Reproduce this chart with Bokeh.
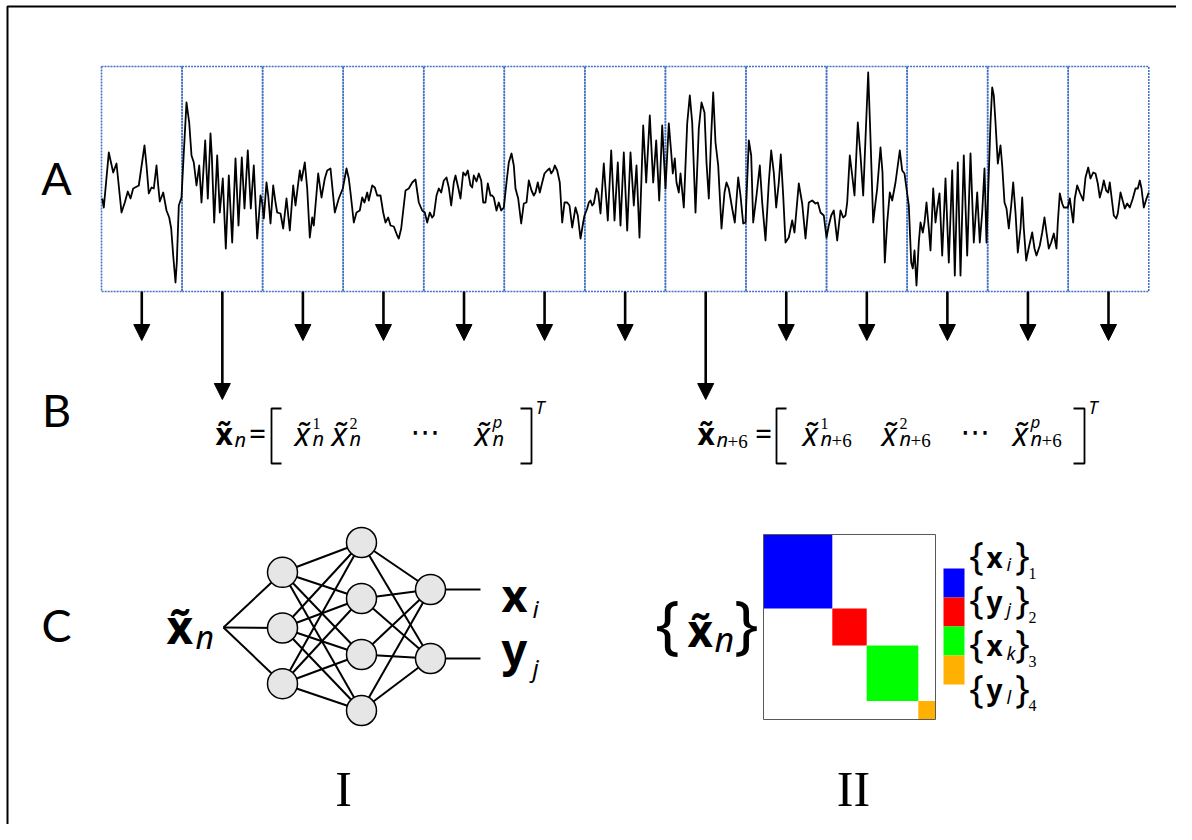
import numpy as np
from bokeh.plotting import figure
from bokeh.models import Range1d, Arrow, NormalHead, ColumnDataSource
from bokeh.core.properties import value
from bokeh.embed import file_html
from bokeh.resources import INLINE

# ---------------- data ----------------
n_windows = 13
window_len = 80.56            # samples per analysis window
long_arrow_windows = [1, 7]   # windows n and n+6 expanded in row B

# EEG-like trace: sample index and amplitude (µV)
sig_t = [
    0.7, 2.3, 7.3, 11.7, 15, 20, 23.3, 26.3, 29, 31.7, 37.3, 39.7, 43, 45, 47.3, 50, 52.3, 55, 56.7, 58.3, 61.7, 65, 67.7, 69.7, 71.7, 74, 75.3, 77.3, 80,
    82.3, 85, 87.7, 90, 92.3, 95, 97.7, 100, 103.7, 106.3, 109, 110.3, 112.7, 115.7, 118.3, 121.3, 124.3, 127.3, 130.7, 134, 137, 140.3, 143, 146.3, 149.3, 152.3, 155.7, 159,
    160.7, 162.3, 165, 166.7, 169, 171.7, 174, 175.7, 179, 181.7, 185, 188.3, 191.7, 194, 198.3, 200, 203.3, 205.7, 208.3, 210.7, 212.3, 216.7, 220, 223.3, 225.7, 229, 233.3, 237.3, 241.3,
    245, 247.3, 249, 252.3, 255, 258.3, 260.7, 263, 265.7, 267.3, 270.7, 273.3, 275.7, 279, 281.7, 284, 286.7, 289, 292.3, 295.7, 297.3, 299.7, 302.3, 304, 307.3, 310.7, 314, 317.3, 320.7, 323.3,
    325.7, 328.3, 330.7, 332.3, 335, 337.3, 339.7, 342.3, 345, 347.3, 349.7, 352.3, 354, 356.7, 359, 361.7, 364, 366.3, 369, 370.7, 372.3, 375, 377.3, 379.7, 381.7, 384, 386.3, 389, 390.7, 392.3, 395, 397.3, 399.7, 402.3,
    405, 407.3, 410, 412.3, 414, 416.7, 419.7, 422.3, 425, 427.3, 430, 432.3, 434, 436.3, 438.3, 440.7, 443, 445.7, 448, 449.7, 451.7, 453.3, 455.7, 458.3, 460.7, 463, 465.7, 468, 470.7, 474, 476.3, 479, 481.7, 483,
    485.7, 487.3, 489, 490.7, 492.3, 495, 496.7, 499, 502.3, 504, 506.3, 509.7, 513, 516.3, 519, 522.3, 525.7, 529, 532.3, 535, 538, 541.7, 544.7, 548.3, 551.7, 554.7, 557.7, 560.7, 564,
    567.3, 569.7, 571.3, 573.3, 575, 577.3, 579, 582.3, 585.7, 588.3, 590.7, 594, 597.3, 600, 603, 605, 607.3, 609.7, 611.7, 614, 616.7, 620, 623, 625, 627.3, 630.7, 633.3, 636.7, 639, 641.7, 644,
    647.3, 649.7, 651.7, 655, 658.3, 660.7, 664, 667.3, 669.7, 672.3, 674.7, 677.3, 679.3, 681.7, 684, 687.3, 690.7, 693, 697.3, 700.7, 704, 707.3, 710.7, 714, 716.3, 719, 722.3, 725,
    727.3, 729.7, 732.3, 735.7, 739, 741.7, 744, 745.7, 748.3, 750.7, 753, 756.3, 759, 761.7, 764, 766.7, 769, 771.7, 774, 775.7, 779, 781, 783.3, 785.7, 788.3, 790.7, 794, 798.3, 800.7, 803, 805,
    807.3, 809.7, 811.3, 813, 815, 817.3, 819, 821.3, 823, 825, 827.3, 829, 831.7, 834, 835.7, 838, 840.7, 844, 847.3, 850.7, 853.3, 856.3, 859, 862.3, 865.7, 869, 872.3, 875.7, 878.3, 880.7, 883, 885,
    889, 890.7, 892.3, 894, 896.3, 899, 900.7, 903, 905, 907.3, 909.7, 911.7, 914, 916.3, 919, 920.7, 922.3, 924.7, 927.3, 930.7, 933, 935, 938.3, 940.7, 943, 945, 947.3, 949.7, 952.3, 955, 956.3, 958.3, 960.7, 962.3, 966.3,
    968.3, 971.7, 973.3, 975.7, 978.3, 981.7, 984, 986.7, 989, 991.7, 994, 996.3, 998.3, 1000.7, 1002.3, 1004.7, 1006.7, 1008.3, 1010.7, 1012.3, 1014.7, 1016.3, 1019, 1021.7, 1023.3, 1025.7, 1028.3, 1031.3, 1034, 1036.3, 1038.3, 1040, 1042.3, 1045, 1047.3,
]
sig_v = [
    2, -7, 48, 28, 37, -12, -2, 9, 2, 12, 15, 32, 55, 35, 7, 13, 12, 35, 15, -1, 8, -10, -17, -28, -55, -82, -62, -5, 3,
    48, 98, 78, 45, 38, 15, 35, -2, 60, 2, 67, 45, -22, 45, -12, 22, -48, 25, -42, 42, -25, 43, -8, 50, -8, 35, -38, 5,
    -2, -18, 18, 5, -23, 15, -2, -12, -13, -28, 2, -30, 15, -5, 30, 20, 38, 12, -37, -17, -25, 27, 3, 22, 30, 32, -12, 2, 12,
    32, 22, 8, -22, -12, -10, 3, -2, 8, 0, 15, 13, 5, 5, -12, -22, -17, -25, -26, -35, -38, -28, -5, 10, 12, 18, 21, -2, -10, -12,
    -22, -12, -17, -15, 5, 12, 8, 20, 23, 13, -5, 18, 25, 13, 2, 28, 25, 30, 15, 13, 25, 19, 27, 20, -2, -2, 17, 5, 5, 3, -10, -2, -10, -7,
    18, 38, 47, 35, 12, 2, -23, -3, -2, 20, 10, 5, 8, 18, 8, 18, 27, 30, 32, 27, 30, 35, 30, 18, -22, -2, -2, -5, -27, -7, -15, -38, -22, -15,
    -8, -2, 0, -5, -3, 12, 8, -13, 37, 12, -20, 50, -20, 38, -25, 48, -30, 48, -5, 35, -37, 75, 18, 85, 18, 60, 0, 75, 12,
    77, 48, 27, 42, 18, 8, 27, -7, 77, 105, 78, -12, 72, 98, 88, 38, 2, 65, 108, 58, 35, -28, 8, 18, 12, -8, -22, 23, 5, -23, -22,
    60, 45, -22, 5, 35, -2, -40, 18, 50, 28, -7, 18, 46, 5, -42, -37, -20, -32, 17, -3, -38, -2, 0, -3, -2, -12, -15, -37,
    -25, -15, -10, -40, -10, -17, -15, -2, 45, 25, 5, 78, 45, 5, 62, 128, 62, -22, -2, 12, 53, 28, -62, -22, 8, 0, 18, 50, 30, 27, 12,
    -5, -62, -68, -50, -85, -42, -22, -32, -22, -2, -28, -50, 12, -22, -8, 7, -55, 22, -62, 30, -75, 38, -75, 45, -55, 47, -42, 8, -42, -12, 32, -42,
    78, 113, 105, 78, 37, 55, 35, -2, -8, -28, -5, 18, -12, -52, -28, 3, -28, -60, -47, -32, -48, -55, -45, -32, -17, -32, -48, -42, -33, -48, -22, 7, -3, -7, -7,
    2, -22, 2, 15, 8, 0, 23, 33, 22, 28, 27, 17, 3, 12, 20, 10, 8, 18, -2, -15, -18, -13, 8, -2, -8, -3, -7, 2, 12, 12, 20, 12, -7, 2, 8,
]
assert len(sig_t) == len(sig_v)

window_top_amp = 134
window_bottom_amp = -91

layer_sizes = [3, 4, 2]
output_symbols = ["x", "y"]
output_indices = ["i", "j"]

cluster_sizes = [40, 20, 30, 10]
cluster_colors = ["#0000FF", "#FF0000", "#00FF00", "#FFB000"]
cluster_symbols = ["x", "y", "x", "y"]
cluster_indices = ["i", "j", "k", "l"]
cluster_numbers = ["1", "2", "3", "4"]

panel_letters = ["A", "B", "C"]
method_labels = ["I", "II"]

# ---------------- figure (layout units = picture pixels) ----------------
W, H = 1176, 824
p = figure(width=W, height=H, x_range=Range1d(0, W), y_range=Range1d(H, 0),
           output_backend="svg", toolbar_location=None, min_border=0,
           x_axis_location=None, y_axis_location=None)
p.outline_line_color = None
p.background_fill_color = "white"
p.border_fill_color = "white"
p.grid.visible = False

SIG_X0, SIG_Y0 = 101, 200
p.extra_x_ranges = {"time": Range1d(0 - SIG_X0, W - SIG_X0)}
p.extra_y_ranges = {"amp": Range1d(SIG_Y0 - H, SIG_Y0)}

SANS = "Noto Sans"
SERIF = "Liberation Serif"
# observed vertical offset of rendered text relative to the requested baseline (in em)
BASE_K = {"Noto Sans": 0.39, "Lato": 0.40, "Liberation Serif": 0.34, "DejaVu Sans": 0.35}


def txt(x, y, s, size, font=SANS, style="normal", align="left"):
    yy = y - BASE_K[font] * size
    p.text(x=[x], y=[yy], text=[s], text_font=value(font), text_font_size=value(f"{size}px"),
           text_font_style=style, text_align=align, text_baseline="alphabetic", text_color="black")


# outer frame (top and left edges)
p.line(x=[7, 7, W + 20], y=[H + 20, 6, 6], line_color="black", line_width=2)

# ---------------- row A: windows and signal ----------------
lefts = [i * window_len for i in range(n_windows)]
rights = [(i + 1) * window_len for i in range(n_windows)]
p.quad(left=lefts, right=rights, top=[window_top_amp] * n_windows, bottom=[window_bottom_amp] * n_windows,
       fill_color=None, line_color="#4472C4", line_width=1.6, line_dash="2 1",
       x_range_name="time", y_range_name="amp")
p.line(x=sig_t, y=sig_v, line_color="black", line_width=1.8, line_join="round",
       x_range_name="time", y_range_name="amp")

# arrows
centers = [(i + 0.5) * window_len for i in range(n_windows)]
ARROW_Y0, SHORT_Y1, LONG_Y1 = 291, 340, 399
asrc = ColumnDataSource(dict(
    xs=centers, xe=centers, ys=[ARROW_Y0] * n_windows,
    ye=[LONG_Y1 if i in long_arrow_windows else SHORT_Y1 for i in range(n_windows)]))
p.add_layout(Arrow(end=NormalHead(size=16, fill_color="black", line_color="black", line_width=1),
                   x_start="xs", y_start="ys", x_end="xe", y_end="ye", source=asrc,
                   line_width=2.6, line_color="black", x_range_name="time"))

# panel letters
for letter, yb in zip(panel_letters, [195, 427, 642]):
    txt(56, yb, letter, 45, font="Lato", align="center")

# ---------------- row B: feature vectors ----------------
XT = "x\u0303"


def bracket(xv, xs_end, y0=408, y1=463):
    p.line(x=[xs_end, xv, xv, xs_end], y=[y0, y0, y1, y1], line_color="black", line_width=1.8)


def sub_label(x, y, plus6):
    txt(x, y, "n", 20, style="italic")
    if plus6:
        txt(x + 11, y, "+6", 19, font=SERIF)


def feature_vector(x_lhs, plus6, eq_x, lb_x, elem_x, dots_x, rb_x, t_x):
    txt(x_lhs, 445, XT, 30, style="bold")
    sub_label(x_lhs + 19, 447, plus6)
    txt(eq_x, 445, "=", 30, align="center")
    bracket(lb_x, lb_x + 10)
    for xx, sup in zip(elem_x, ["1", "2", "p"]):
        txt(xx - 1, 445, XT, 32, style="italic")
        if sup == "p":
            txt(xx + 17, 428, sup, 17, style="italic")
        else:
            txt(xx + 17, 428, sup, 16, font=SERIF)
        sub_label(xx + 17, 446, plus6)
    txt(dots_x, 441, "\u22ef", 30, font="DejaVu Sans", align="center")
    bracket(rb_x, rb_x - 11)
    txt(t_x, 414, "T", 18, style="italic")


feature_vector(215, False, 257, 271, [295, 332, 475], 425, 531, 535)
feature_vector(697, True, 763, 776, [803, 882, 1013], 975, 1084, 1088)

# ---------------- row C, I: neural network ----------------
NN_X = [282, 361, 430]
NN_CY = [627.5, 626, 623.5]
NN_DY = [55.7, 56, 69]
nodes = []
for k, n in enumerate(layer_sizes):
    ys = [NN_CY[k] + (j - (n - 1) / 2) * NN_DY[k] for j in range(n)]
    nodes.append([(NN_X[k], y) for y in ys])

x0s, y0s, x1s, y1s = [], [], [], []
IN_X, IN_Y = 223, 627
for (x, y) in nodes[0]:
    x0s.append(IN_X); y0s.append(IN_Y); x1s.append(x); y1s.append(y)
for k in range(len(layer_sizes) - 1):
    for (xa, ya) in nodes[k]:
        for (xb, yb) in nodes[k + 1]:
            x0s.append(xa); y0s.append(ya); x1s.append(xb); y1s.append(yb)
OUT_X = 480
for (x, y) in nodes[-1]:
    x0s.append(x); y0s.append(y); x1s.append(OUT_X); y1s.append(y)
p.segment(x0=x0s, y0=y0s, x1=x1s, y1=y1s, line_color="black", line_width=2)

allx = [x for layer in nodes for (x, y) in layer]
ally = [y for layer in nodes for (x, y) in layer]
p.scatter(x=allx, y=ally, size=30, marker="circle", fill_color="#e6e6e6",
          line_color="black", line_width=1.5)

txt(166, 643, XT, 46, style="bold")
txt(195, 648, "n", 32, style="italic")
for (x, y), sym, idx, dy in zip(nodes[-1], output_symbols, output_indices, [23, 8]):
    txt(501, y + dy, sym, 45, style="bold")
    txt(532, y + dy + (5 if idx == "i" else 10), idx, 24, style="italic")

# ---------------- row C, II: block matrix ----------------
MX0, MY0, MW, MH = 763, 534, 172, 185
tot = sum(cluster_sizes)
cum = np.concatenate([[0], np.cumsum(cluster_sizes)]) / tot
p.quad(left=list(MX0 + cum[:-1] * MW), right=list(MX0 + cum[1:] * MW),
       top=list(MY0 + cum[:-1] * MH), bottom=list(MY0 + cum[1:] * MH),
       fill_color=cluster_colors, line_color=None)
p.quad(left=[MX0], right=[MX0 + MW], top=[MY0], bottom=[MY0 + MH],
       fill_color=None, line_color="#595959", line_width=1)

# legend bar
LB_X0, LB_X1, LB_Y0, LB_SEG = 943, 964, 568, 29
nseg = len(cluster_colors)
p.quad(left=[LB_X0] * nseg, right=[LB_X1] * nseg,
       top=[LB_Y0 + i * LB_SEG for i in range(nseg)],
       bottom=[LB_Y0 + (i + 1) * LB_SEG for i in range(nseg)],
       fill_color=cluster_colors, line_color=None)

for r, (sym, idx, num) in enumerate(zip(cluster_symbols, cluster_indices, cluster_numbers)):
    yb = 567 + r * 44.3
    txt(976, yb + 1, "{", 38, align="center")
    txt(986, yb, sym, 28, style="bold")
    txt(1006, yb + 4, idx, 18, style="italic")
    txt(1022, yb + 1, "}", 38, align="center")
    txt(1028, yb + 11, num, 16, font=SERIF)

# {x̃_n} label
txt(667, 647, "{", 64, align="center")
txt(687, 647, XT, 44, style="bold")
txt(714, 652, "n", 34, style="italic")
txt(746, 647, "}", 64, align="center")

# method labels
for lab, xc in zip(method_labels, [343, 853]):
    txt(xc, 805, lab, 50, font=SERIF, align="center")

open("out.html", "w").write(file_html(p, INLINE))
